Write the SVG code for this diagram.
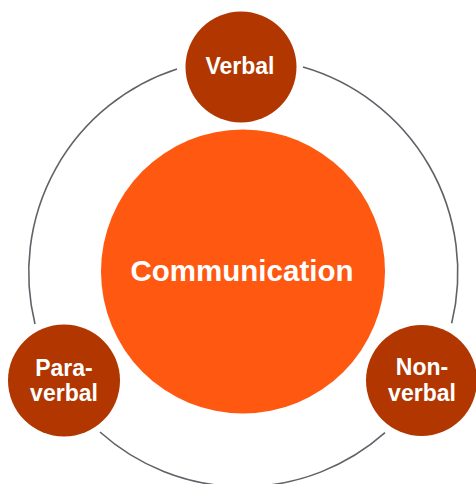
<svg xmlns="http://www.w3.org/2000/svg" width="476" height="484" viewBox="0 0 476 484">
<style>
.ring{fill:none;stroke:#5f6368;stroke-width:1.6}
.node{fill:#B23600}
.center{fill:#FE5811}
.t{font-family:"Liberation Sans",Arial,sans-serif;font-weight:bold;fill:#ffffff;text-anchor:middle}
.sm{font-size:23px}
.lg{font-size:29.5px}
</style>
<rect width="476" height="484" fill="#ffffff"/>
<g id="connectors">
<path class="ring" d="M177,69 A214,214 0 0 0 35,324"/>
<path class="ring" d="M100,432 A214,214 0 0 0 385,432.7"/>
<path class="ring" d="M451.7,323.3 A214,214 0 0 0 303,67"/>
</g>
<g id="communication">
<circle class="center" cx="243" cy="271.5" r="142"/>
<text class="t lg" x="242" y="281">Communication</text>
</g>
<g id="verbal">
<circle class="node" cx="241" cy="67" r="55.5"/>
<text class="t sm" x="240" y="74">Verbal</text>
</g>
<g id="paraverbal">
<circle class="node" cx="64" cy="380.5" r="56"/>
<text class="t sm" x="64" y="375.5">Para-</text>
<text class="t sm" x="64" y="400.5">verbal</text>
</g>
<g id="nonverbal">
<circle class="node" cx="421.5" cy="380.5" r="55.5"/>
<text class="t sm" x="422" y="375">Non-</text>
<text class="t sm" x="422" y="400.5">verbal</text>
</g>
</svg>
